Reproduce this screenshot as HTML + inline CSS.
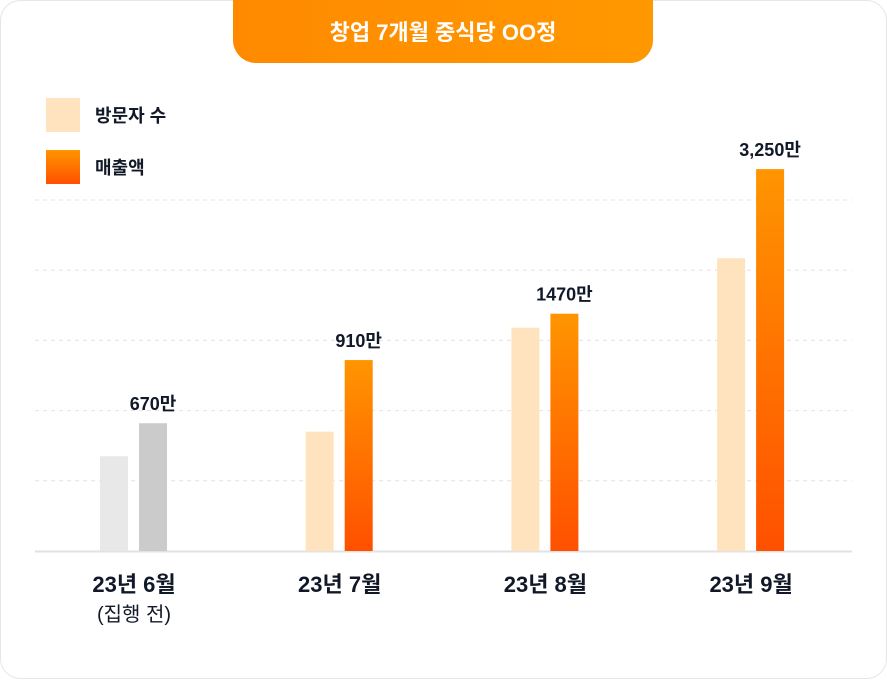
<!DOCTYPE html>
<html><head><meta charset="utf-8"><style>
body{margin:0;background:#fff;font-family:"Liberation Sans","Noto Sans CJK KR",sans-serif;}
svg text{font-family:"Liberation Sans","Noto Sans CJK KR",sans-serif;}
</style></head><body>
<svg id="chart" width="887" height="679" xmlns="http://www.w3.org/2000/svg">
<defs>
<linearGradient id="og" x1="0" y1="0" x2="0" y2="1"><stop offset="0" stop-color="#ff9500"/><stop offset="1" stop-color="#ff5000"/></linearGradient>
<linearGradient id="tg" x1="0" y1="0" x2="1" y2="0"><stop offset="0" stop-color="#ff8a00"/><stop offset="1" stop-color="#ff9800"/></linearGradient>
</defs>
<rect x="0.5" y="0.5" width="886" height="678" rx="20" fill="#fff" stroke="#e6e6e6"/>
<path d="M233 0 H653 V40 a23 23 0 0 1 -23 23 H256 a23 23 0 0 1 -23 -23 Z" fill="url(#tg)"/>
<text x="443" y="40" text-anchor="middle" fill="#fff" font-size="22" font-weight="bold">창업 7개월 중식당 OO정</text>
<rect x="46" y="98" width="34" height="34" fill="#ffe3bf"/>
<text x="95" y="122" font-size="18" font-weight="bold" fill="#111827">방문자 수</text>
<rect x="46" y="150" width="34" height="34" fill="url(#og)"/>
<text x="95" y="174" font-size="18" font-weight="bold" fill="#111827">매출액</text>
<g id="grid"></g><g id="bars"></g>
</svg>
<script>
const categories=["23년 6월","23년 7월","23년 8월","23년 9월"];
const subLabels=["(집행 전)","","",""];
const visitors=[1.35,1.7,3.18,4.17];
const sales=[1.82,2.72,3.38,5.44];
const salesLabels=["670만","910만","1470만","3,250만"];
const gridTicks=[1,2,3,4,5];
const NS="http://www.w3.org/2000/svg";
const baseY=551, unit=70.2;
const y=v=>baseY-v*unit;
const groupX=i=>100+i*205.7;
function mk(t,a,p){const e=document.createElementNS(NS,t);for(const k in a)e.setAttribute(k,a[k]);p.appendChild(e);return e;}
const grid=document.getElementById('grid'),bars=document.getElementById('bars');
gridTicks.forEach(t=>{const l=mk('line',{x1:35,x2:852,y1:y(t),y2:y(t),stroke:'#e4e4e4','stroke-dasharray':'4 4'},grid);

});
const b=mk('line',{x1:35,x2:852,y1:baseY+0.5,y2:baseY+0.5,stroke:'#e2e2e2','stroke-width':2},grid);


categories.forEach((c,i)=>{const x=groupX(i);const gray=i===0;
const r1=mk('rect',{x:x,y:y(visitors[i]),width:28,height:visitors[i]*unit,fill:gray?'#e8e8e8':'#ffe3bf'},bars);


const r2=mk('rect',{x:x+39,y:y(sales[i]),width:28,height:sales[i]*unit,fill:gray?'#cbcbcb':'url(#og)'},bars);


const vl=mk('text',{x:x+53,y:y(sales[i])-13,'text-anchor':'middle','font-size':18,'font-weight':'bold',fill:'#111827'},bars);vl.textContent=salesLabels[i];


const cl=mk('text',{x:x+34,y:592,'text-anchor':'middle','font-size':22,'font-weight':'bold',fill:'#111827'},bars);cl.textContent=c;


if(subLabels[i]){const s=mk('text',{x:x+34,y:621,'text-anchor':'middle','font-size':20,fill:'#111827'},bars);s.textContent=subLabels[i];

}
});
</script>
</body></html>
